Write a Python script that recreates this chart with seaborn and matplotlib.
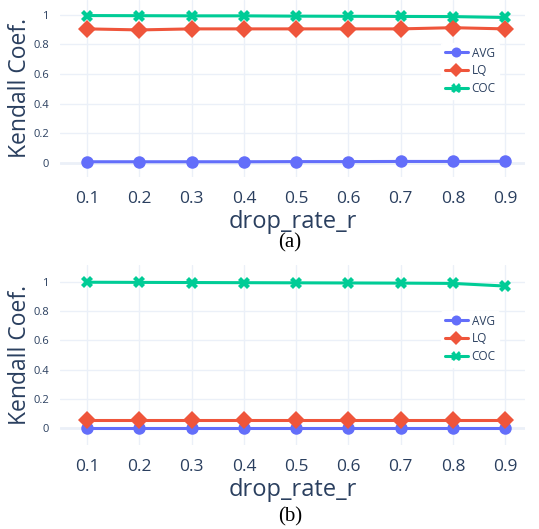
import matplotlib
matplotlib.use("Agg")
import matplotlib.pyplot as plt
import seaborn as sns
import pandas as pd
from matplotlib.ticker import FuncFormatter

# ---- data ----
drop_rate = [0.1, 0.2, 0.3, 0.4, 0.5, 0.6, 0.7, 0.8, 0.9]
methods = ["AVG", "LQ", "COC"]

a_avg = [0.008, 0.008, 0.008, 0.008, 0.009, 0.009, 0.010, 0.010, 0.011]
a_lq = [0.905, 0.898, 0.905, 0.905, 0.905, 0.905, 0.905, 0.913, 0.905]
a_coc = [0.995, 0.994, 0.993, 0.993, 0.991, 0.990, 0.989, 0.988, 0.982]

b_avg = [-0.003, -0.003, -0.003, -0.003, -0.003, -0.003, -0.003, -0.003, -0.003]
b_lq = [0.052, 0.052, 0.052, 0.052, 0.052, 0.052, 0.052, 0.052, 0.052]
b_coc = [0.998, 0.997, 0.996, 0.995, 0.994, 0.993, 0.992, 0.990, 0.972]

yticks = [0, 0.2, 0.4, 0.6, 0.8, 1]
captions = ["(a)", "(b)"]

colors = {"AVG": "#636efa", "LQ": "#EF553B", "COC": "#00cc96"}
markers = {"AVG": "o", "LQ": "D", "COC": "X"}
txt = "#2a3f5f"
grid = "#EBF0F8"


def long_df(avg, lq, coc):
    rows = []
    for name, vals in zip(methods, [avg, lq, coc]):
        for x, v in zip(drop_rate, vals):
            rows.append({"drop_rate_r": x, "Kendall Coef.": v, "method": name})
    return pd.DataFrame(rows)


sns.set_theme(style="white")
plt.rcParams["font.family"] = ["Open Sans", "DejaVu Sans"]

fig = plt.figure(figsize=(5.39, 5.29), dpi=100)
W, H = 539, 529

panels = [
    (long_df(a_avg, a_lq, a_coc), (60, 0, 525, 177), (-0.095, 1.10), 243, 43),
    (long_df(b_avg, b_lq, b_coc), (60, 265, 525, 445), (-0.116, 1.116), 517, 311),
]

for (df, (x0, y0, x1, y1), ylim, capy, legy), cap in zip(panels, captions):
    ax = fig.add_axes([x0 / W, 1 - y1 / H, (x1 - x0) / W, (y1 - y0) / H])
    ax.set_facecolor("white")
    for v in yticks:
        ax.axhline(v, color=grid, lw=2 if v == 0 else 1, zorder=0)
    for v in drop_rate:
        ax.axvline(v, color=grid, lw=1, zorder=0)
    sns.lineplot(
        data=df, x="drop_rate_r", y="Kendall Coef.", hue="method", style="method",
        palette=colors, markers=markers, dashes=False, linewidth=2.2,
        markersize=9, markeredgewidth=0, ax=ax, zorder=3,
    )
    ax.set_xlim(0.048, 0.938)
    ax.set_ylim(*ylim)
    ax.set_xticks(drop_rate)
    ax.set_yticks(yticks)
    ax.yaxis.set_major_formatter(FuncFormatter(lambda v, p: f"{v:g}"))
    ax.tick_params(axis="x", labelsize=12.5, colors=txt, length=0, pad=10)
    ax.tick_params(axis="y", labelsize=8, colors=txt, length=0, pad=8)
    ax.set_xlabel("drop_rate_r", fontsize=17, color=txt, labelpad=2)
    ax.set_ylabel("Kendall Coef.", fontsize=16.5, color=txt, labelpad=1)
    for s in ax.spines.values():
        s.set_visible(False)
    ax.grid(False)
    leg = ax.legend(
        loc="upper left",
        bbox_to_anchor=((441 - x0) / (x1 - x0), 1 - (legy - y0) / (y1 - y0)),
        frameon=True, fontsize=8.5, handlelength=2.0, handletextpad=0.3,
        labelspacing=0.4, borderpad=0.3, borderaxespad=0, markerscale=0.8,
    )
    leg.get_frame().set_facecolor("white")
    leg.get_frame().set_edgecolor("white")
    leg.get_frame().set_alpha(1)
    for t in leg.get_texts():
        t.set_color(txt)
    fig.text(290 / W, 1 - capy / H, cap, ha="center", va="center",
             fontsize=15, family="Liberation Serif", color="black")

fig.savefig("out.png", dpi=100)
